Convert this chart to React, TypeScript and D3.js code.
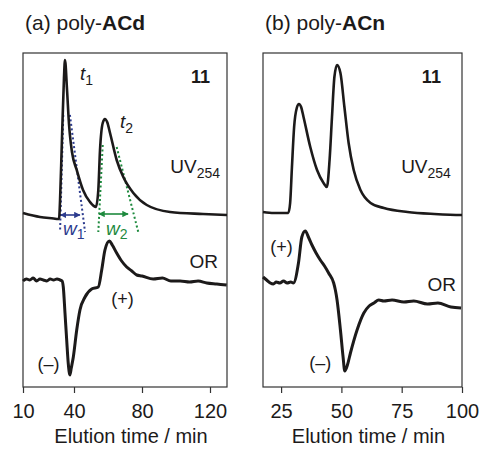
import * as d3 from 'd3';
import { useEffect, useRef } from 'react';

const WIDTH = 481;
const HEIGHT = 449;
const FONT = '"Liberation Sans", Arial, Helvetica, sans-serif';
const INK = '#1c1a1a';
const BLUE = '#2c3b8e';
const GREEN = '#1e8a3e';

// (a) poly-ACd : UV254 trace
const timeUvA = [10, 20, 28, 30.6, 31.2, 31.8, 32.9, 34.1, 34.7, 35.9, 37.1, 37.6, 38.8, 41.6, 45.3, 49.4, 52.9, 54.3, 55.3, 56.9, 58.2, 59.5, 61.2, 65.1, 69, 74.9, 82.8, 96.5, 115.9, 130];
const uvA = [174, 170, 168.5, 168, 168, 187, 247, 309, 327, 297, 262, 252, 235, 217, 197, 185, 180, 197, 237, 264, 268, 265, 254, 227, 210, 194, 182, 175, 173, 172];

// (a) poly-ACd : OR trace
const timeOrA = [10, 12, 14, 16, 18, 20, 22, 24, 26, 28, 30, 31.8, 33, 33.7, 34.7, 35.7, 36.6, 37.6, 38.4, 39.6, 41.6, 43.5, 46.5, 50.4, 54.3, 56.3, 58.2, 60.8, 62.5, 65.1, 68, 71, 74, 76.9, 80, 86.6, 92, 97, 102.4, 108, 113, 118.1, 124, 129.8];
const orA = [106, 108, 107, 109, 106, 108, 107, 106, 108, 107, 108, 107, 106, 100, 74, 47, 24, 12, 19, 30, 57, 77, 90, 98, 100, 117, 137, 146, 142, 134, 126, 120, 116, 112, 111, 108, 109, 106, 106, 105, 106, 104, 103, 102];

// (b) poly-ACn : UV254 trace
const timeUvB = [17.5, 22, 28, 28.75, 29.5, 30.4, 31.5, 32.4, 33.3, 34.3, 37.1, 39.9, 42.6, 44, 45.1, 46.1, 47.1, 48.2, 49.6, 51.25, 53, 55.1, 57.9, 62.1, 67.6, 77.4, 88.5, 99.6, 100];
const uvB = [175, 174, 174, 184, 220, 260, 279, 283, 280, 270, 240, 217, 204, 200, 227, 270, 310, 322, 314, 280, 244, 217, 197, 184, 179, 175, 173, 172, 172];

// (b) poly-ACn : OR trace
const timeOrB = [17.5, 19, 20.5, 21.8, 23, 24.5, 26, 27.5, 29, 30.1, 32.2, 33.6, 35, 36.5, 37.8, 39.5, 41.25, 43, 44.7, 46.8, 47.5, 48.2, 49.6, 50.7, 51.4, 52.5, 53.75, 56.5, 59.3, 61.5, 63.5, 65.5, 67.6, 71, 75.9, 80, 85.7, 90, 95.4, 99.6];
const orB = [110, 107, 104, 103, 105, 104, 106, 104, 105, 104, 124, 150, 156, 149, 142, 134, 127, 121, 114, 104, 97, 87, 57, 30, 16, 22, 34, 57, 74, 81, 84, 87, 86, 87, 85, 86, 83, 84, 80, 79];

const ticksA = [10, 40, 80, 120];
const ticksB = [25, 50, 75, 100];

// peak width construction on (a): [time, signal]
const w1Left = [[33.7, 272], [31.8, 155]];
const w1Right = [[37.6, 272], [46.5, 155]];
const w1Arrow = [[32.1, 172], [43.5, 172]];
const w2Left = [[56.9, 242], [54.3, 155]];
const w2Right = [[65.1, 240], [77.8, 155]];
const w2Arrow = [[54.7, 173], [71.8, 173]];

const zip = (t, v) => t.map((d, i) => [d, v[i]]);

function drawPanel(svg, p) {
  const top = 53;
  const bottom = 387;
  const x = d3.scaleLinear().domain(p.domain).range(p.range);
  const y = d3.scaleLinear().domain([0, 334]).range([bottom, top]);
  const g = svg.append('g');

  const line = d3
    .line()
    .x((d) => x(d[0]))
    .y((d) => y(d[1]))
    .curve(d3.curveMonotoneX);
  const straight = d3.line().x((d) => x(d[0])).y((d) => y(d[1]));

  // title
  const title = g.append('text')
    .attr('x', p.range[0] + 2)
    .attr('y', 30)
    .attr('font-size', 21)
    .attr('fill', INK);
  title.append('tspan').text(p.title[0]);
  title.append('tspan').attr('font-weight', 'bold').text(p.title[1]);

  // frame
  g.append('rect')
    .attr('x', p.range[0])
    .attr('y', top)
    .attr('width', p.range[1] - p.range[0])
    .attr('height', bottom - top)
    .attr('fill', 'none')
    .attr('stroke', '#333')
    .attr('stroke-width', 1.2);

  // x axis
  const ax = g.append('g')
    .attr('transform', `translate(0,${bottom})`)
    .call(d3.axisBottom(x).tickValues(p.ticks).tickSize(6).tickSizeOuter(0).tickPadding(11));
  ax.select('.domain').remove();
  ax.selectAll('line').attr('stroke', '#333').attr('stroke-width', 1.2);
  ax.selectAll('text')
    .attr('font-size', 20)
    .attr('font-family', FONT)
    .attr('fill', INK);

  g.append('text')
    .attr('x', (p.range[0] + p.range[1]) / 2 + 6)
    .attr('y', 443)
    .attr('text-anchor', 'middle')
    .attr('font-size', 20)
    .attr('fill', INK)
    .text('Elution time / min');

  // width construction (drawn under the traces)
  if (p.widths) {
    p.widths.forEach((w) => {
      [w.left, w.right].forEach((seg) => {
        g.append('path')
          .attr('d', straight(seg))
          .attr('fill', 'none')
          .attr('stroke', w.color)
          .attr('stroke-width', 2)
          .attr('stroke-dasharray', '2,2.5');
      });
      g.append('path')
        .attr('d', straight(w.arrow))
        .attr('stroke', w.color)
        .attr('stroke-width', 1.6)
        .attr('marker-start', `url(#${w.marker})`)
        .attr('marker-end', `url(#${w.marker})`);
      const lab = g.append('text')
        .attr('x', x(w.label[0]))
        .attr('y', y(w.label[1]))
        .attr('font-size', 19)
        .attr('font-style', 'italic')
        .attr('fill', w.color);
      lab.append('tspan').text('w');
      lab.append('tspan').attr('font-style', 'normal').attr('font-size', 14).attr('dy', 4).text(w.sub);
    });
  }

  // traces
  g.append('path')
    .attr('d', line(zip(p.uvT, p.uv)))
    .attr('fill', 'none')
    .attr('stroke', INK)
    .attr('stroke-width', 2.6)
    .attr('stroke-linejoin', 'round');
  g.append('path')
    .attr('d', line(zip(p.orT, p.or)))
    .attr('fill', 'none')
    .attr('stroke', INK)
    .attr('stroke-width', 3)
    .attr('stroke-linejoin', 'round');

  // labels
  const txt = (t, v, s, opts = {}) =>
    g.append('text')
      .attr('x', x(t))
      .attr('y', y(v))
      .attr('text-anchor', opts.anchor || 'start')
      .attr('font-size', opts.size || 19)
      .attr('font-weight', opts.bold ? 'bold' : 'normal')
      .attr('fill', INK)
      .text(s);

  txt(p.eleven[0], p.eleven[1], '11', { anchor: 'end', bold: true, size: 18 });
  const uvLab = txt(p.uvLab[0], p.uvLab[1], '', { anchor: 'end' });
  uvLab.append('tspan').text('UV');
  uvLab.append('tspan').attr('font-size', 14).attr('dy', 5).text('254');
  txt(p.orLab[0], p.orLab[1], 'OR', { anchor: 'end' });
  txt(p.plus[0], p.plus[1], '(+)', { anchor: 'middle', size: 18 });
  txt(p.minus[0], p.minus[1], '(–)', { anchor: 'middle', size: 18 });

  if (p.peaks) {
    p.peaks.forEach((pk) => {
      const t = g.append('text')
        .attr('x', x(pk.at[0]))
        .attr('y', y(pk.at[1]))
        .attr('font-size', 19)
        .attr('font-style', 'italic')
        .attr('fill', INK);
      t.append('tspan').text('t');
      t.append('tspan').attr('font-style', 'normal').attr('font-size', 14).attr('dy', 5).text(pk.sub);
    });
  }
}

function App() {
  const ref = useRef(null);

  useEffect(() => {
    const svg = d3.select(ref.current);
    svg.selectAll('*').remove();
    svg.attr('font-family', FONT);

    const defs = svg.append('defs');
    [['arrBlue', BLUE], ['arrGreen', GREEN]].forEach(([id, c]) => {
      defs.append('marker')
        .attr('id', id)
        .attr('viewBox', '0 0 10 10')
        .attr('refX', 9)
        .attr('refY', 5)
        .attr('markerWidth', 4)
        .attr('markerHeight', 4)
        .attr('orient', 'auto-start-reverse')
        .append('path')
        .attr('d', 'M0,0 L10,5 L0,10 z')
        .attr('fill', c);
    });

    drawPanel(svg, {
      title: ['(a) poly-', 'ACd'],
      domain: [10, 130],
      range: [23, 227],
      ticks: ticksA,
      uvT: timeUvA,
      uv: uvA,
      orT: timeOrA,
      or: orA,
      eleven: [120, 304],
      uvLab: [125.9, 214],
      orLab: [124.7, 119],
      plus: [68.5, 82],
      minus: [25, 17],
      peaks: [
        { at: [43.5, 307], sub: '1' },
        { at: [67.1, 259], sub: '2' }
      ],
      widths: [
        { left: w1Left, right: w1Right, arrow: w1Arrow, color: BLUE, marker: 'arrBlue', label: [33.5, 152], sub: '1' },
        { left: w2Left, right: w2Right, arrow: w2Arrow, color: GREEN, marker: 'arrGreen', label: [58.8, 152], sub: '2' }
      ]
    });

    drawPanel(svg, {
      title: ['(b) poly-', 'ACn'],
      domain: [17.5, 100],
      range: [263, 462],
      ticks: ticksB,
      uvT: timeUvB,
      uv: uvB,
      orT: timeOrB,
      or: orB,
      eleven: [91.25, 304],
      uvLab: [95.4, 214],
      orLab: [97.5, 96],
      plus: [25.2, 134],
      minus: [41.25, 18]
    });
  }, []);

  return (
    <div style={{ position: 'absolute', left: 0, top: 0, background: '#fff' }}>
      <svg ref={ref} width={WIDTH} height={HEIGHT} style={{ display: 'block' }}></svg>
    </div>
  );
}

export default App;
